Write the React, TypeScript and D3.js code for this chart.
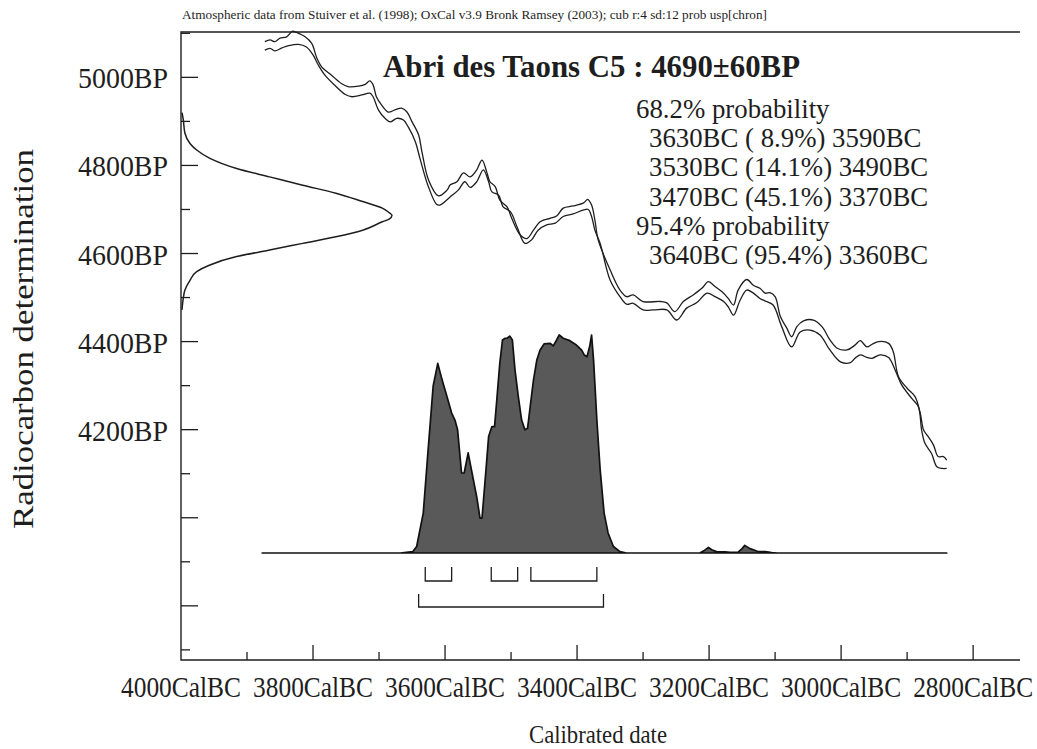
import { useRef, useEffect } from "react";
import * as d3 from "d3";

// calibration curve band, [year BC, BP]
const curveUpper: [number, number][] = [
  [3873, 5081], [3865, 5085], [3858, 5081], [3850, 5089], [3840, 5092], [3831, 5105], [3825, 5102],
  [3812, 5092], [3802, 5077], [3794, 5043], [3787, 5024], [3772, 5005], [3757, 4986], [3747, 4979],
  [3731, 4980], [3721, 4984], [3714, 4992], [3709, 4983], [3704, 4956], [3696, 4937], [3686, 4921],
  [3676, 4926], [3666, 4930], [3658, 4922], [3650, 4899], [3640, 4869], [3635, 4831], [3625, 4767],
  [3610, 4731], [3597, 4744], [3592, 4756], [3582, 4763], [3572, 4783], [3562, 4774], [3552, 4790],
  [3544, 4812], [3537, 4786], [3532, 4763], [3524, 4752], [3517, 4721], [3506, 4706], [3499, 4680],
  [3486, 4642], [3476, 4634], [3466, 4653], [3456, 4672], [3441, 4680], [3431, 4685], [3421, 4703],
  [3406, 4708], [3390, 4715], [3384, 4723], [3378, 4710], [3373, 4676], [3368, 4631], [3350, 4563],
  [3335, 4517], [3325, 4502], [3315, 4506], [3300, 4491], [3274, 4491], [3264, 4488], [3252, 4468],
  [3239, 4491], [3224, 4506], [3211, 4521], [3201, 4536], [3191, 4525], [3178, 4510], [3171, 4498],
  [3163, 4483], [3156, 4517], [3143, 4541], [3133, 4528], [3123, 4521], [3115, 4510], [3108, 4511],
  [3100, 4502], [3092, 4457], [3082, 4430], [3075, 4411], [3067, 4434], [3057, 4447], [3042, 4449],
  [3029, 4434], [3017, 4404], [3006, 4385], [2991, 4381], [2979, 4392], [2971, 4402], [2961, 4388],
  [2953, 4394], [2943, 4400], [2928, 4396], [2921, 4377], [2913, 4320], [2900, 4294], [2888, 4275],
  [2880, 4237], [2875, 4199], [2868, 4184], [2860, 4165], [2853, 4139], [2845, 4139], [2840, 4131],
];
const curveLower: [number, number][] = [
  [3873, 5062], [3865, 5066], [3858, 5060], [3847, 5067], [3837, 5072], [3822, 5075], [3810, 5069],
  [3800, 5051], [3792, 5028], [3782, 5005], [3767, 4982], [3751, 4961], [3741, 4956], [3726, 4960],
  [3714, 4964], [3709, 4956], [3701, 4926], [3691, 4907], [3683, 4899], [3673, 4907], [3663, 4903],
  [3656, 4888], [3645, 4854], [3638, 4816], [3626, 4755], [3613, 4712], [3608, 4710], [3592, 4729],
  [3580, 4744], [3570, 4763], [3562, 4750], [3552, 4763], [3542, 4790], [3534, 4763], [3529, 4740],
  [3519, 4733], [3512, 4706], [3501, 4695], [3491, 4661], [3479, 4623], [3469, 4631], [3459, 4653],
  [3446, 4665], [3433, 4669], [3421, 4684], [3406, 4690], [3390, 4699], [3383, 4700], [3378, 4684],
  [3373, 4653], [3365, 4623], [3350, 4540], [3335, 4502], [3325, 4485], [3315, 4487], [3300, 4472],
  [3284, 4472], [3264, 4472], [3249, 4449], [3234, 4476], [3219, 4488], [3203, 4510], [3191, 4502],
  [3178, 4491], [3171, 4479], [3163, 4460], [3153, 4494], [3143, 4517], [3133, 4510], [3123, 4498],
  [3113, 4491], [3103, 4483], [3090, 4434], [3075, 4388], [3062, 4422], [3047, 4426], [3032, 4415],
  [3017, 4381], [3001, 4354], [2986, 4352], [2979, 4362], [2971, 4370], [2961, 4364], [2953, 4362],
  [2941, 4370], [2928, 4364], [2918, 4335], [2908, 4301], [2893, 4271], [2883, 4252], [2878, 4199],
  [2873, 4169], [2863, 4146], [2855, 4116], [2847, 4112], [2840, 4112],
];

// measured date 4690±60BP, [BP, relative density]
const radiocarbon: [number, number][] = [
  [4920, 0], [4904, 0.006], [4873, 0.014], [4850, 0.038], [4835, 0.07], [4816, 0.133], [4793, 0.26],
  [4774, 0.417], [4755, 0.575], [4737, 0.733], [4718, 0.86], [4703, 0.954], [4693, 0.986], [4687, 1.0],
  [4678, 0.986], [4672, 0.954], [4653, 0.86], [4638, 0.733], [4623, 0.575], [4608, 0.417], [4593, 0.26],
  [4574, 0.133], [4559, 0.07], [4539, 0.038], [4517, 0.014], [4498, 0.006], [4472, 0],
];

// calibrated probability, [year BC, relative probability]
const calibrated: [number, number][] = [
  [3877, 0], [3668, 0], [3649, 0.006], [3643, 0.03], [3633, 0.183], [3626, 0.459], [3618, 0.766],
  [3611, 0.87], [3605, 0.8], [3597, 0.717], [3590, 0.642], [3585, 0.61], [3581, 0.565], [3575, 0.367],
  [3571, 0.367], [3565, 0.459], [3560, 0.381], [3552, 0.257], [3547, 0.16], [3544, 0.16], [3538, 0.381],
  [3534, 0.534], [3529, 0.58], [3525, 0.58], [3522, 0.688], [3517, 0.872], [3513, 0.977], [3509, 0.985],
  [3506, 0.985], [3502, 0.995], [3498, 0.977], [3494, 0.839], [3489, 0.717], [3484, 0.61], [3479, 0.565],
  [3475, 0.572], [3471, 0.672], [3466, 0.794], [3461, 0.885], [3456, 0.931], [3450, 0.959], [3441, 0.962],
  [3436, 0.95], [3431, 0.977], [3427, 1.0], [3421, 0.985], [3411, 0.974], [3401, 0.954], [3393, 0.931],
  [3389, 0.908], [3385, 0.9], [3381, 0.946], [3378, 1.0], [3375, 0.885], [3370, 0.61], [3365, 0.381],
  [3359, 0.183], [3353, 0.092], [3345, 0.03], [3335, 0.006], [3325, 0], [3214, 0], [3208, 0.01],
  [3201, 0.026], [3196, 0.015], [3188, 0.005], [3176, 0.005], [3168, 0.003], [3156, 0.004], [3150, 0.02],
  [3146, 0.035], [3138, 0.02], [3127, 0.008], [3115, 0.006], [3105, 0.002], [3097, 0], [2840, 0],
];

const ranges68: [number, number][] = [[3630, 3590], [3530, 3490], [3470, 3370]];
const ranges95: [number, number][] = [[3640, 3360]];

const header = "Atmospheric data from Stuiver et al. (1998); OxCal v3.9 Bronk Ramsey (2003); cub r:4 sd:12 prob usp[chron]";
const title = "Abri des Taons C5 : 4690\u00b160BP";
const resultLines = [
  { text: "68.2% probability", indent: false },
  { text: "3630BC ( 8.9%) 3590BC", indent: true },
  { text: "3530BC (14.1%) 3490BC", indent: true },
  { text: "3470BC (45.1%) 3370BC", indent: true },
  { text: "95.4% probability", indent: false },
  { text: "3640BC (95.4%) 3360BC", indent: true },
];
const xTicks = [4000, 3800, 3600, 3400, 3200, 3000, 2800];
const yTicks = [5000, 4800, 4600, 4400, 4200];

export default function App() {
  const ref = useRef<HTMLDivElement>(null);

  useEffect(() => {
    const width = 1037;
    const height = 749;
    const left = 181;
    const right = 1020;
    const top = 32;
    const bottom = 660;
    const font = "'Liberation Serif', 'Times New Roman', serif";
    const ink = "#1e1e1e";

    document.body.style.margin = "0";
    document.body.style.overflow = "hidden";

    d3.select(ref.current).selectAll("*").remove();
    const svg = d3
      .select(ref.current)
      .append("svg")
      .attr("width", width)
      .attr("height", height)
      .style("display", "block")
      .style("background", "#fff");

    // ---- Scales ----
    const x = d3.scaleLinear().domain([4000, 2729]).range([left, right]);
    const y = d3.scaleLinear().domain([3677, 5103]).range([bottom, top]);
    const p = d3.scaleLinear().domain([0, 1]).range([553, 335]);
    const g = d3.scaleLinear().domain([0, 1]).range([left + 1, 392]);

    // ---- Frame ----
    svg.append("path")
      .attr("d", `M${right},${top}H${left}V${bottom}H${right}`)
      .attr("fill", "none")
      .attr("stroke", ink)
      .attr("stroke-width", 1.4);

    // ---- X ticks ----
    d3.range(3900, 2729, -100).forEach((yr) => {
      const major = yr % 200 === 0;
      svg.append("line")
        .attr("x1", x(yr)).attr("x2", x(yr))
        .attr("y1", bottom).attr("y2", bottom - (major ? 15 : 8))
        .attr("stroke", ink).attr("stroke-width", 1.3);
    });
    svg.append("g")
      .selectAll("text")
      .data(xTicks)
      .join("text")
      .attr("x", (d) => x(d))
      .attr("y", 697)
      .attr("text-anchor", "middle")
      .attr("font-family", font)
      .attr("font-size", 29)
      .attr("textLength", 120)
      .attr("lengthAdjust", "spacingAndGlyphs")
      .attr("fill", ink)
      .text((d) => `${d}CalBC`);

    // ---- Y ticks ----
    d3.range(5100, 3677, -100).forEach((bp) => {
      const major = bp % 200 === 0;
      svg.append("line")
        .attr("x1", left).attr("x2", left + (major ? 17 : 9))
        .attr("y1", y(bp)).attr("y2", y(bp))
        .attr("stroke", ink).attr("stroke-width", 1.3);
    });
    svg.append("g")
      .selectAll("text")
      .data(yTicks)
      .join("text")
      .attr("x", 168)
      .attr("y", (d) => y(d) + 11)
      .attr("text-anchor", "end")
      .attr("font-family", font)
      .attr("font-size", 30)
      .attr("textLength", 90)
      .attr("lengthAdjust", "spacingAndGlyphs")
      .attr("fill", ink)
      .text((d) => `${d}BP`);

    // ---- Axis labels ----
    svg.append("text")
      .attr("x", 598).attr("y", 743)
      .attr("text-anchor", "middle")
      .attr("font-family", font)
      .attr("font-size", 25)
      .attr("textLength", 138)
      .attr("lengthAdjust", "spacingAndGlyphs")
      .attr("fill", ink)
      .text("Calibrated date");

    svg.append("text")
      .attr("transform", "translate(33,339) rotate(-90)")
      .attr("text-anchor", "middle")
      .attr("font-family", font)
      .attr("font-size", 29)
      .attr("textLength", 380)
      .attr("lengthAdjust", "spacingAndGlyphs")
      .attr("fill", ink)
      .text("Radiocarbon determination");

    svg.append("text")
      .attr("x", 182).attr("y", 19)
      .attr("font-family", font)
      .attr("font-size", 13)
      .attr("textLength", 585)
      .attr("lengthAdjust", "spacingAndGlyphs")
      .attr("fill", ink)
      .text(header);

    // ---- Radiocarbon date on the y axis ----
    svg.append("path")
      .datum(radiocarbon)
      .attr("d", d3.line<[number, number]>().x((d) => g(d[1])).y((d) => y(d[0])).curve(d3.curveMonotoneY))
      .attr("fill", "none")
      .attr("stroke", ink)
      .attr("stroke-width", 1.5);

    // ---- Calibration curve ----
    const band = d3.line<[number, number]>().x((d) => x(d[0])).y((d) => y(d[1])).curve(d3.curveCatmullRom);
    [curveUpper, curveLower].forEach((c) => {
      svg.append("path")
        .datum(c)
        .attr("d", band)
        .attr("fill", "none")
        .attr("stroke", ink)
        .attr("stroke-width", 1.3);
    });

    // ---- Calibrated distribution ----
    svg.append("path")
      .datum(calibrated)
      .attr("d", d3.area<[number, number]>().x((d) => x(d[0])).y0(p(0)).y1((d) => p(d[1])))
      .attr("fill", "#595959")
      .attr("stroke", "#111")
      .attr("stroke-width", 1.7)
      .attr("stroke-linejoin", "round");

    // ---- Range brackets ----
    const bracket = (r: [number, number], y0: number, y1: number) =>
      `M${x(r[0])},${y0}V${y1}H${x(r[1])}V${y0}`;
    ranges68.forEach((r) => {
      svg.append("path").attr("d", bracket(r, 567, 581))
        .attr("fill", "none").attr("stroke", ink).attr("stroke-width", 1.3);
    });
    ranges95.forEach((r) => {
      svg.append("path").attr("d", bracket(r, 594, 607))
        .attr("fill", "none").attr("stroke", ink).attr("stroke-width", 1.3);
    });

    // ---- Title and results ----
    svg.append("text")
      .attr("x", 383).attr("y", 77)
      .attr("font-family", font)
      .attr("font-size", 31)
      .attr("font-weight", "bold")
      .attr("textLength", 417)
      .attr("lengthAdjust", "spacingAndGlyphs")
      .attr("fill", ink)
      .text(title);

    svg.append("g")
      .selectAll("text")
      .data(resultLines)
      .join("text")
      .attr("x", (d) => (d.indent ? 649 : 636))
      .attr("y", (d, i) => 118 + i * 29.2)
      .attr("font-family", font)
      .attr("font-size", 26.8)
      .attr("fill", ink)
      .style("white-space", "pre")
      .text((d) => d.text);
  }, []);

  return <div ref={ref} />;
}
